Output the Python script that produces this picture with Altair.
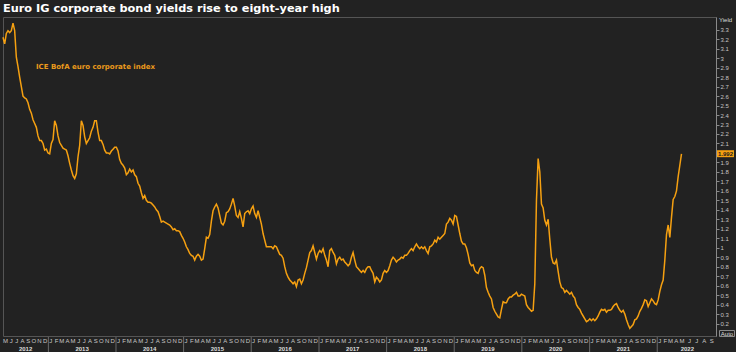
import altair as alt
import pandas as pd

title_text = "Euro IG corporate bond yields rise to eight-year high"
series_label = "ICE BofA euro corporate index"
axis_title = "Yield"
auto_label = "Auto"

# Yield readings, one every 9 days starting 2012-05-01
start_date = "2012-05-01"
step_days = 9
axis_end_date = "2022-10-01"

yields_2012_2015 = [
    3.22, 3.15, 3.26, 3.29, 3.27, 3.29, 3.37, 3.29, 3.01, 2.91,
    2.80, 2.70, 2.60, 2.58, 2.57, 2.53, 2.46, 2.42, 2.35, 2.31,
    2.27, 2.18, 2.13, 2.13, 2.10, 2.03, 2.04, 2.00, 1.99, 2.10,
    2.14, 2.34, 2.29, 2.18, 2.11, 2.08, 2.05, 2.04, 2.03, 1.97,
    1.89, 1.82, 1.76, 1.73, 1.78, 1.96, 2.08, 2.34, 2.29, 2.17,
    2.10, 2.13, 2.16, 2.23, 2.27, 2.34, 2.34, 2.22, 2.13, 2.13,
    2.09, 2.03, 2.00, 2.00, 1.99, 2.02, 2.04, 2.06, 2.06, 2.02,
    1.93, 1.89, 1.87, 1.84, 1.77, 1.79, 1.83, 1.80, 1.82, 1.77,
    1.75, 1.68, 1.65, 1.58, 1.52, 1.55, 1.50, 1.48, 1.48, 1.47,
    1.45, 1.43, 1.40, 1.38, 1.33, 1.27, 1.28, 1.27, 1.26, 1.25,
    1.24, 1.22, 1.19, 1.20, 1.18, 1.18, 1.17, 1.13, 1.10, 1.06,
    1.01, 0.98, 0.94, 0.92, 0.91, 0.87, 0.91, 0.93, 0.91, 0.87,
    0.88, 0.99, 1.11, 1.10, 1.14, 1.28, 1.39, 1.43, 1.46, 1.42,
    1.34, 1.26, 1.24, 1.28, 1.37,
]
yields_2015_2019 = [
    1.38, 1.41, 1.46, 1.52, 1.44, 1.34, 1.32, 1.38, 1.31, 1.22,
    1.36, 1.38, 1.39, 1.36, 1.41, 1.44, 1.36, 1.32, 1.39, 1.32,
    1.25, 1.15, 1.08, 1.01, 1.01, 1.01, 1.01, 0.99, 1.02, 1.01,
    0.97, 0.93, 0.92, 0.89, 0.80, 0.73, 0.69, 0.66, 0.64, 0.62,
    0.64, 0.59, 0.66, 0.67, 0.62, 0.66, 0.73, 0.79, 0.87, 0.95,
    0.97, 1.02, 0.95, 0.88, 0.94, 0.97, 0.95, 0.99, 0.92, 0.87,
    0.80, 0.97, 0.99, 0.95, 0.92, 0.83, 0.88, 0.90, 0.87, 0.88,
    0.85, 0.83, 0.81, 0.83, 0.90, 0.95, 0.87, 0.80, 0.78, 0.76,
    0.74, 0.76, 0.74, 0.78, 0.80, 0.80, 0.76, 0.73, 0.64, 0.69,
    0.67, 0.64, 0.66, 0.73, 0.76, 0.74, 0.76, 0.81, 0.87, 0.90,
    0.88, 0.85, 0.87, 0.88, 0.90, 0.89, 0.92, 0.92, 0.94, 0.97,
    0.99, 0.97, 1.01, 1.04, 1.01, 0.99, 1.01, 0.99, 1.01, 0.97,
    0.94, 1.01, 1.02, 1.04, 1.08, 1.06, 1.11, 1.09, 1.11, 1.13,
    1.15, 1.25, 1.27, 1.31, 1.29, 1.25, 1.34,
]
yields_2019_2022 = [
    1.33, 1.24, 1.15, 1.07, 1.04, 1.04, 1.00, 0.93, 0.84, 0.81,
    0.82, 0.76, 0.74, 0.73, 0.78, 0.80, 0.79, 0.71, 0.58, 0.53,
    0.49, 0.46, 0.37, 0.33, 0.30, 0.27, 0.26, 0.35, 0.43, 0.42,
    0.42, 0.46, 0.48, 0.48, 0.50, 0.51, 0.53, 0.49, 0.49, 0.51,
    0.50, 0.49, 0.40, 0.37, 0.35, 0.33, 0.34, 0.62, 1.50, 1.94,
    1.80, 1.46, 1.42, 1.29, 1.24, 1.30, 1.09, 0.90, 0.84, 0.83,
    0.87, 0.75, 0.64, 0.58, 0.57, 0.53, 0.55, 0.53, 0.51, 0.53,
    0.49, 0.47, 0.40, 0.37, 0.35, 0.31, 0.28, 0.25, 0.22, 0.23,
    0.25, 0.23, 0.25, 0.23, 0.25, 0.28, 0.32, 0.35, 0.34, 0.35,
    0.32, 0.34, 0.34, 0.35, 0.38, 0.40, 0.41, 0.37, 0.34, 0.32,
    0.34, 0.30, 0.24, 0.19, 0.15, 0.17, 0.19, 0.24, 0.25, 0.28,
    0.33, 0.36, 0.40, 0.45, 0.44, 0.38, 0.42, 0.46, 0.44, 0.41,
    0.40, 0.45, 0.54, 0.61, 0.66, 0.87, 1.14, 1.24, 1.11, 1.32,
    1.51, 1.54, 1.60, 1.75, 1.87, 1.99,
]
last_yield = 1.992

# 2.0 sits under the last-value tag, as in the original
y_ticks = [0.2, 0.3, 0.4, 0.5, 0.6, 0.7, 0.8, 0.9, 1.0, 1.1, 1.2, 1.3, 1.4,
           1.5, 1.6, 1.7, 1.8, 1.9, 2.1, 2.2, 2.3, 2.4, 2.5, 2.6, 2.7,
           2.8, 2.9, 3.0, 3.1, 3.2, 3.3]

month_initials = ["J", "F", "M", "A", "M", "J", "J", "A", "S", "O", "N", "D"]
first_month = "2012-05"
last_month = "2022-09"
year_labels = ["2012", "2013", "2014", "2015", "2016", "2017", "2018",
               "2019", "2020", "2021", "2022"]
year_label_dates = ["2012-08-31", "2013-07-02", "2014-07-02", "2015-07-02",
                    "2016-07-02", "2017-07-02", "2018-07-02", "2019-07-02",
                    "2020-07-02", "2021-07-02", "2022-06-05"]

# ---- tables ----
t0 = pd.Timestamp(start_date)


def days(ts):
    return (pd.Timestamp(ts) - t0).days


values = yields_2012_2015 + yields_2015_2019 + yields_2019_2022
dates = pd.date_range(start_date, periods=len(values), freq=f"{step_days}D")
df = pd.DataFrame({"t": [days(d) for d in dates], "yield": values})
last_df = pd.DataFrame({"t": [days(dates[-1])], "yield": [last_yield],
                        "label": [f"{last_yield:.3f}"]})

months = pd.period_range(first_month, last_month, freq="M")
month_df = pd.DataFrame({
    "t": [days(p.to_timestamp()) + 13 for p in months],
    "letter": [month_initials[p.month - 1] for p in months],
})
year_df = pd.DataFrame({"t": [days(d) for d in year_label_dates], "label": year_labels})
sep_df = pd.DataFrame({"t": [days(pd.Timestamp(int(y), 1, 1)) for y in year_labels[1:]]})

W, H = 713, 319
ORANGE = "#f5a011"
BG = "#222222"

t_end = days(dates[-1])
t_axis_end = days(axis_end_date)
# daily-data part and the empty months after it are spaced differently
xscale = alt.Scale(domain=[0, t_end, t_axis_end], range=[0, 678.5, W], nice=False, zero=False)
yscale = alt.Scale(domain=[0.069, 3.434], nice=False, zero=False)
yaxis = alt.Axis(orient="right", values=y_ticks, format=".1~f", title=None,
                 grid=False, labelFont="Liberation Sans", labelFontSize=6,
                 labelColor="#c4c4c4", domainColor="#8a8a8a", tickColor="#8a8a8a",
                 tickSize=3, labelPadding=1, labelOverlap=False, labelBound=False)

X = alt.X("t:Q", scale=xscale, axis=None)

line = alt.Chart(df).mark_line(color=ORANGE, strokeWidth=1.5).encode(
    x=X, y=alt.Y("yield:Q", scale=yscale, axis=yaxis)
)

month_text = alt.Chart(month_df).mark_text(
    font="Liberation Sans", fontSize=6, color="#c8c8c8", baseline="middle", align="center"
).encode(x=X, y=alt.value(324), text="letter:N")

year_text = alt.Chart(year_df).mark_text(
    font="Liberation Sans", fontSize=6, fontWeight="bold", color="#dddddd",
    baseline="middle", align="center"
).encode(x=X, y=alt.value(331.5), text="label:N")

seps = alt.Chart(sep_df).mark_rule(color="#6a6a6a", strokeWidth=1).encode(
    x=X, y=alt.value(320), y2=alt.value(336)
)

title_df = pd.DataFrame({"t": [title_text]})
title = alt.Chart(title_df).mark_text(
    font="DejaVu Sans", fontSize=11.3, fontWeight="bold", color="#ffffff",
    align="left", baseline="alphabetic"
).encode(x=alt.value(0), y=alt.value(-5), text="t:N")

lab_df = pd.DataFrame({"t": [series_label]})
lab = alt.Chart(lab_df).mark_text(
    font="DejaVu Sans", fontSize=7, fontWeight="bold", color="#eb9a1c",
    align="left", baseline="middle"
).encode(x=alt.value(33), y=alt.value(50), text="t:N")

ytitle_df = pd.DataFrame({"t": [axis_title]})
ytitle = alt.Chart(ytitle_df).mark_text(
    font="Liberation Sans", fontSize=6, color="#dddddd", align="left", baseline="middle"
).encode(x=alt.value(716), y=alt.value(3), text="t:N")

auto_df = pd.DataFrame({"t": [auto_label]})
auto_box = alt.Chart(auto_df).mark_rect(fill=BG, stroke="#8a8a8a", strokeWidth=1).encode(
    x=alt.value(716.5), x2=alt.value(731.5), y=alt.value(313.5), y2=alt.value(319.5)
)
auto_text = alt.Chart(auto_df).mark_text(
    font="Liberation Sans", fontSize=6, color="#dddddd", align="center", baseline="middle"
).encode(x=alt.value(724), y=alt.value(316.7), text="t:N")

last_box = alt.Chart(last_df).mark_point(
    shape="M-1,-0.41L1,-0.41L1,0.41L-1,0.41Z", filled=True, fill=ORANGE,
    opacity=1, size=289, strokeWidth=0
).encode(x=alt.value(722.5), y=alt.Y("yield:Q", scale=yscale, axis=yaxis))
last_text = alt.Chart(last_df).mark_text(
    font="Liberation Sans", fontSize=6, fontWeight="bold", color="#1a1a1a",
    align="center", baseline="middle"
).encode(x=alt.value(722.5), y=alt.Y("yield:Q", scale=yscale, axis=yaxis), text="label:N")

chart = alt.layer(
    line, seps, month_text, year_text, title, lab, ytitle,
    auto_box, auto_text, last_box, last_text
).properties(
    width=W, height=H,
    padding={"left": 3, "top": 17, "right": 20, "bottom": 16},
    autosize=alt.AutoSizeParams(type="none"),
    background=BG,
).configure_view(stroke="#555555", strokeWidth=1)

chart.save("out.html", embed_options={"renderer": "svg", "actions": False})
